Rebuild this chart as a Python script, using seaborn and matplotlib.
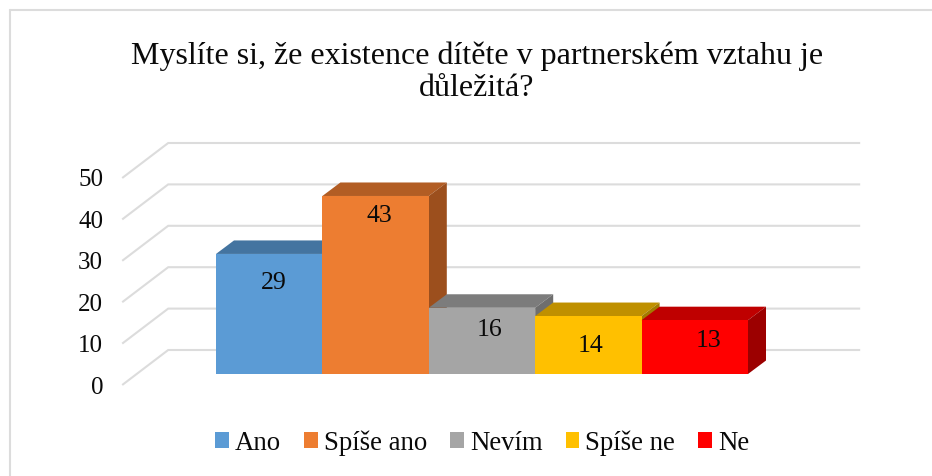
import matplotlib
matplotlib.use('Agg')
import matplotlib.pyplot as plt
import pandas as pd
import seaborn as sns
from matplotlib.lines import Line2D
from matplotlib.patches import Patch, Polygon

# -----------------------------

title = 'Myslíte si, že existence dítěte v partnerském vztahu je\ndůležitá?'
categories = ['Ano', 'Spíše ano', 'Nevím', 'Spíše ne', 'Ne']
values = [29, 43, 16, 14, 13]
y_ticks = [0, 10, 20, 30, 40, 50]

front_colors = ['#5b9bd5', '#ed7d31', '#a5a5a5', '#ffc000', '#ff0000']
top_colors = ['#4474a0', '#b25d24', '#7c7c7c', '#bf9000', '#bf0000']
side_colors = ['#3d6a92', '#9c4f1d', '#6e6e6e', '#a37b00', '#9c0000']

# posun popisku vuci stredu a vrsku sloupce (v pixelech)
label_dx = [5, 4, 8, 2, 14]
label_dy = [27, 18, 20, 27, 18]

# -----------------------------

W, H = 932, 476
PX_X = 106.4          # pixely na jednu kategorii
PX_Y = 4.14           # pixely na jednotku osy y
X0 = 269.2            # pixel stredu prvniho sloupce
Y0 = 374              # pixel zakladny sloupcu

DEPTH_X = 18 / PX_X   # hloubka sloupce
DEPTH_Y = 13.5 / PX_Y
BACK_X = -101 / PX_X  # zadni stena, levy okraj
BACK_Y = 24 / PX_Y
FRONT_X = -147 / PX_X # predni hrana
FRONT_Y = -11 / PX_Y
RIGHT_X = 591 / PX_X

GRID = '#dcdcdc'
TEXT = '#0a0a0a'

sns.set_theme(style='white')
plt.rcParams['font.family'] = ['Liberation Serif', 'DejaVu Serif']

df = pd.DataFrame({'kategorie': categories, 'pocet': values})

fig = plt.figure(figsize=(W / 100, H / 100), dpi=100)
ax = fig.add_axes([0, 0, 1, 1])

sns.barplot(data=df, x='kategorie', y='pocet', hue='kategorie', order=categories,
            hue_order=categories, palette=front_colors, width=1, dodge=False,
            saturation=1, legend=False, ax=ax)

ax.set_xlim(-X0 / PX_X, (W - X0) / PX_X)
ax.set_ylim(-(H - Y0) / PX_Y, Y0 / PX_Y)
ax.axis('off')

# mrizka: predni sikma cast + zadni vodorovna cast
for v in y_ticks:
    ax.plot([FRONT_X, BACK_X, RIGHT_X], [v + FRONT_Y, v + BACK_Y, v + BACK_Y],
            color=GRID, lw=1.5, zorder=1, solid_capstyle='butt', solid_joinstyle='miter')
    ax.text(FRONT_X - 19 / PX_X, v + FRONT_Y, str(v), ha='right', va='center_baseline',
            fontsize=18, color=TEXT)

# 3D efekt: vrsek a bok, kresleno zleva doprava
for i, bar in enumerate(ax.patches):
    left = bar.get_x()
    right = left + bar.get_width()
    top = bar.get_height()
    bar.set_zorder(4 + 2 * i)
    bar.set_linewidth(0)
    ax.add_patch(Polygon([(left, top), (right, top), (right + DEPTH_X, top + DEPTH_Y),
                          (left + DEPTH_X, top + DEPTH_Y)],
                         closed=True, fc=top_colors[i], ec='none', zorder=3 + 2 * i))
    ax.add_patch(Polygon([(right, 0), (right + DEPTH_X, DEPTH_Y),
                          (right + DEPTH_X, top + DEPTH_Y), (right, top)],
                         closed=True, fc=side_colors[i], ec='none', zorder=3 + 2 * i))
    ax.text(i + label_dx[i] / PX_X, top - label_dy[i] / PX_Y, str(values[i]),
            ha='center', va='center_baseline', fontsize=18.5, color=TEXT, zorder=30)

# nadpis
fig.text(477 / W, 1 - 72 / H, title, ha='center', va='center', fontsize=23,
         linespacing=1.14, color=TEXT)

# legenda
handles = [Patch(fc=c, ec='none', label=n) for c, n in zip(front_colors, categories)]
leg = ax.legend(handles=handles, ncol=5, loc='center', bbox_to_anchor=(482 / W, 1 - 443 / H),
                bbox_transform=fig.transFigure, frameon=False, fontsize=19.3,
                handlelength=0.52, handleheight=0.52, handletextpad=0.22, columnspacing=0.86,
                borderpad=0, labelcolor=TEXT)

# ramecek grafu (jen nahore a vlevo, zbytek je oriznuty)
x_b, y_b = 9.5 / W, 1 - 9.5 / H
fig.add_artist(Line2D([x_b, 1], [y_b, y_b], color=GRID, lw=1.5))
fig.add_artist(Line2D([x_b, x_b], [y_b, 0], color=GRID, lw=1.5))

fig.savefig('out.png', dpi=100)
